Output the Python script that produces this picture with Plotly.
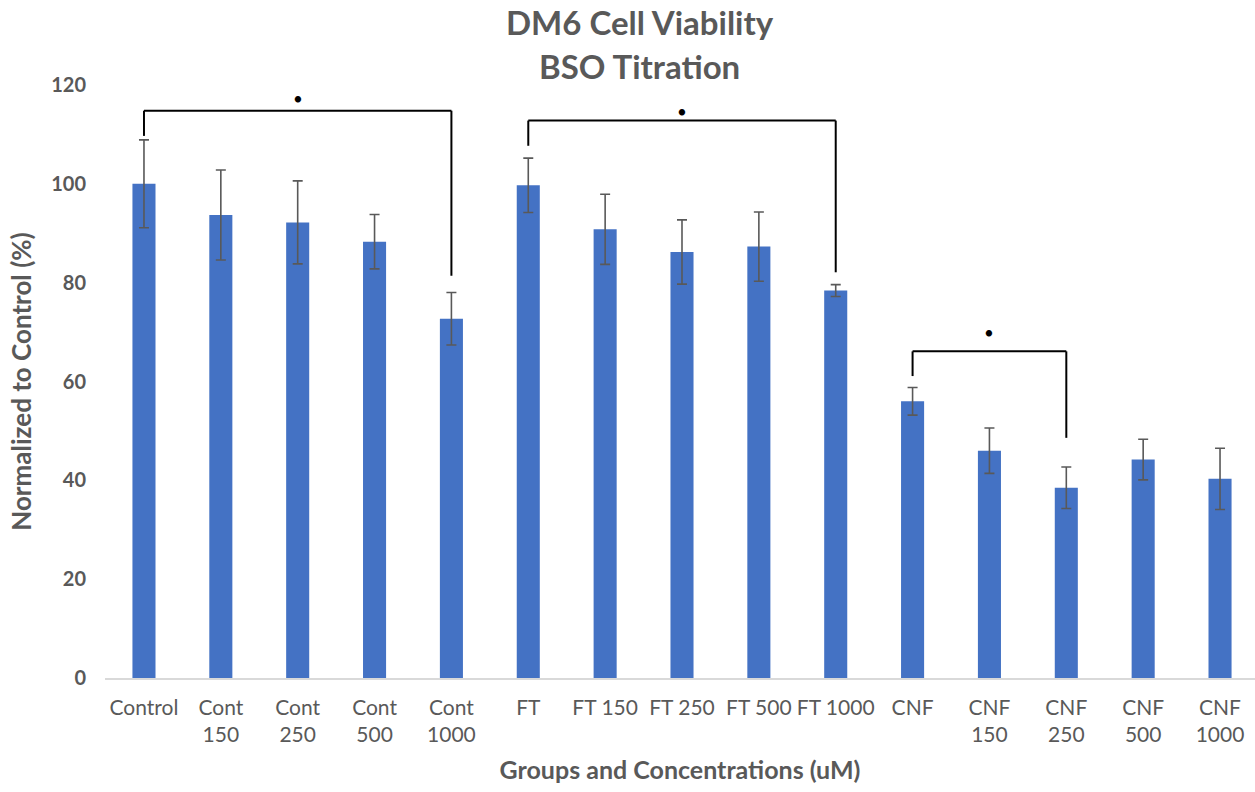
import plotly.graph_objects as go

# Viability data (normalized to control, %) with standard deviations
categories = ["Control", "Cont<br>150", "Cont<br>250", "Cont<br>500", "Cont<br>1000",
              "FT", "FT 150", "FT 250", "FT 500", "FT 1000",
              "CNF", "CNF<br>150", "CNF<br>250", "CNF<br>500", "CNF<br>1000"]
viability = [100.0, 93.7, 92.2, 88.3, 72.7,
             99.7, 90.8, 86.2, 87.3, 78.4,
             56.0, 46.0, 38.5, 44.2, 40.3]
std_dev = [8.9, 9.1, 8.4, 5.5, 5.3,
           5.5, 7.1, 6.5, 7.0, 1.2,
           2.8, 4.6, 4.2, 4.1, 6.2]

# Significance brackets: (left index, right index, bar y, left drop y, right drop y, star y)
brackets = [
    (0, 4, 114.8, 109.7, 81.4, 117.2),
    (5, 9, 112.8, 107.7, 82.1, 114.7),
    (10, 12, 66.1, 61.1, 48.6, 69.9),
]

title_lines = ["DM6 Cell Viability", "BSO Titration"]

FONT = "Lato"
GRAY = "#595959"

fig = go.Figure()
fig.add_trace(go.Bar(
    x=list(range(len(categories))),
    y=viability,
    marker=dict(color="#4472C4", line=dict(width=0)),
    error_y=dict(type="data", array=std_dev, visible=True,
                 color=GRAY, thickness=1.6, width=5),
    showlegend=False,
))

for left, right, top, ldrop, rdrop, star in brackets:
    fig.add_shape(type="line", xref="x", yref="y", x0=left, x1=left, y0=ldrop, y1=top,
                  line=dict(color="black", width=2))
    fig.add_shape(type="line", xref="x", yref="y", x0=left, x1=right, y0=top, y1=top,
                  line=dict(color="black", width=2))
    fig.add_shape(type="line", xref="x", yref="y", x0=right, x1=right, y0=top, y1=rdrop,
                  line=dict(color="black", width=2))
    fig.add_annotation(x=(left + right) / 2, y=star, xref="x", yref="y",
                       text="•", showarrow=False, yanchor="middle",
                       font=dict(family=FONT, size=17, color="black"))

# Two-line chart title placed above the plot area
for text, ypos in zip(title_lines, [1.106, 1.032]):
    fig.add_annotation(x=0.465, y=ypos, xref="paper", yref="paper",
                       xanchor="center", yanchor="middle", showarrow=False,
                       text=f"<b>{text}</b>",
                       font=dict(family=FONT, size=33, color=GRAY))

fig.update_layout(
    width=1255, height=792,
    margin=dict(l=105, r=0, t=85, b=114),
    paper_bgcolor="white", plot_bgcolor="white",
    bargap=0.7,
    font=dict(family=FONT, color=GRAY),
    xaxis=dict(
        tickmode="array", tickvals=list(range(len(categories))), ticktext=categories,
        range=[-0.507, 14.455],
        showline=True, linecolor="#D9D9D9", linewidth=1.5,
        showgrid=False, ticks="", tickangle=0, ticklabelstandoff=10,
        tickfont=dict(family=FONT, size=21, color=GRAY),
        title=dict(text="<b>Groups and Concentrations (uM)</b>",
                   font=dict(family=FONT, size=25, color=GRAY), standoff=16),
    ),
    yaxis=dict(
        range=[0, 120], tickvals=[0, 20, 40, 60, 80, 100, 120],
        showline=False, showgrid=False, zeroline=False, ticks="",
        ticklabelstandoff=18,
        tickfont=dict(family=FONT, size=20, color=GRAY, weight="bold"),
        title=dict(text="<b>Normalized to Control (%)</b>",
                   font=dict(family=FONT, size=26, color=GRAY), standoff=12),
    ),
)

fig.write_html("out.html")
